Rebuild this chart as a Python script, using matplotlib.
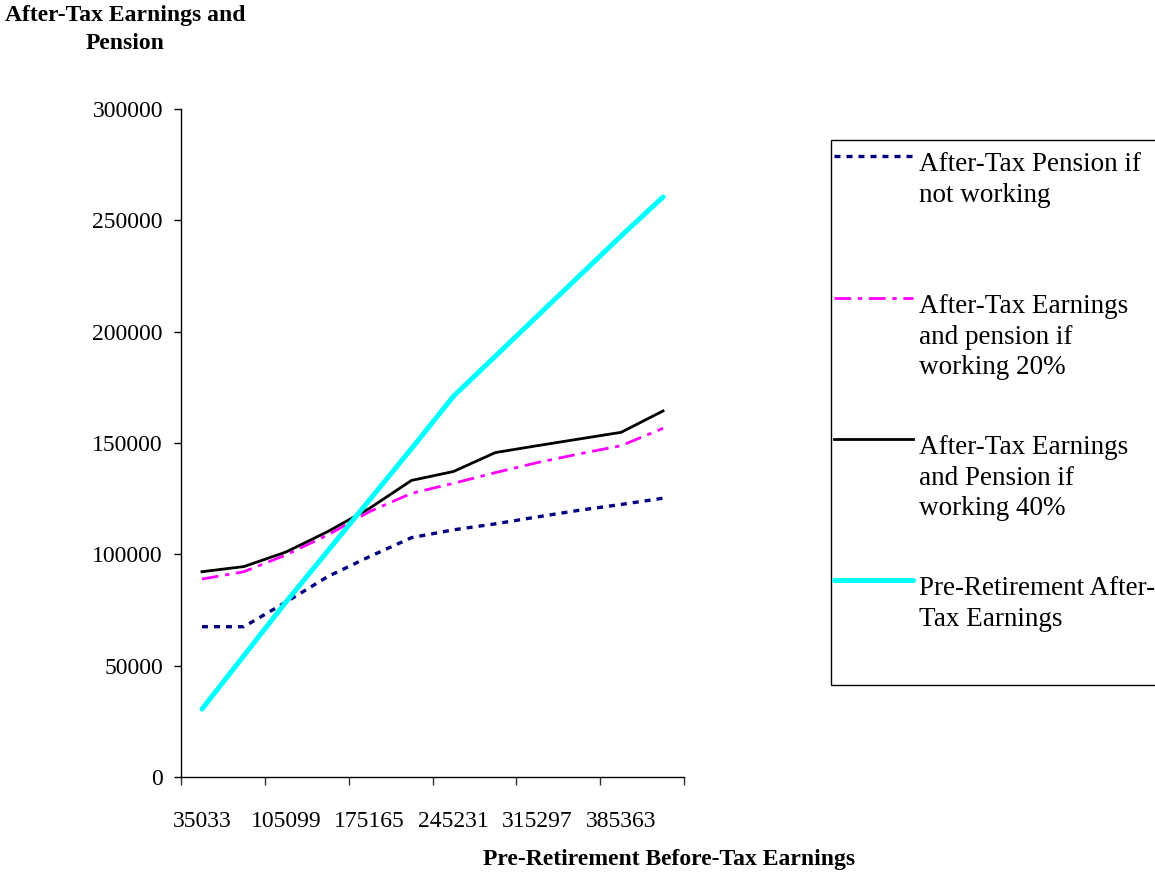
import matplotlib
matplotlib.use("Agg")
import matplotlib.pyplot as plt
from matplotlib.lines import Line2D
from matplotlib.patches import Rectangle
import numpy as np

plt.rcParams['font.family'] = ['Liberation Serif', 'DejaVu Serif']

# pre-retirement before-tax earnings (categories)
earnings = [35033, 70066, 105099, 140132, 175165, 210198,
            245231, 280264, 315297, 350330, 385363, 420396]

pension_not_working = [67.5, 67.5, 78.5, 90, 99, 107.5,
                       111, 113.7, 116.8, 119.8, 122.4, 125.2]
working_20 = [88.9, 92.2, 99.7, 108.7, 119.2, 127.4,
              131.9, 136.7, 141.2, 145.1, 148.8, 156.6]
working_40 = [92.2, 94.5, 101, 110.2, 120.7, 133.2,
              137.2, 145.7, 148.8, 151.8, 154.8, 164.4]
pre_ret_after_tax = [30.5, 54.5, 78.5, 101.5, 124.5, 147.5,
                     171, 189, 207, 225, 243, 260.5]

labels = ["After-Tax Pension if\nnot working",
          "After-Tax Earnings\nand pension if\nworking 20%",
          "After-Tax Earnings\nand Pension if\nworking 40%",
          "Pre-Retirement After-\nTax Earnings"]

W, H = 1155, 876
fig = plt.figure(figsize=(W / 100, H / 100), dpi=100)
ax = fig.add_axes([181 / W, 1 - 777 / H, 503 / W, 668 / H])

x = np.arange(len(earnings))
k = 1000
styles = [
    dict(color="#000080", lw=2.4, dashes=(1.8, 1.8)),
    dict(color="#FF00FF", lw=2.0, dashes=(6.0, 2.4, 1.6, 2.4)),
    dict(color="black", lw=2.0),
    dict(color="#00FFFF", lw=3.6, solid_capstyle="round"),
]
series = [pension_not_working, working_20, working_40, pre_ret_after_tax]
for s, st in zip(series, styles):
    ax.plot(x, np.array(s) * k, **st)

ax.set_xlim(-0.5, len(earnings) - 0.5)
ax.set_ylim(0, 300000)
ax.set_yticks(np.arange(0, 300001, 50000))
ax.set_xticks(np.arange(-0.5, len(earnings), 2))
ax.set_xticklabels([])
ax.set_xticks(x[::2], minor=True)
ax.set_xticklabels([str(e) for e in earnings[::2]], minor=True)
ax.tick_params(axis="x", which="major", length=6, width=1, direction="out", colors="#333333")
ax.tick_params(axis="x", which="minor", length=0, pad=24.5, labelsize=17)
ax.tick_params(axis="y", length=5, width=1, pad=8, labelsize=17)
for lab in ax.get_xticklabels(minor=True):
    lab.set_color("black")
for sp in ["top", "right"]:
    ax.spines[sp].set_visible(False)
ax.spines["left"].set_linewidth(1)
ax.spines["bottom"].set_linewidth(1)

# legend drawn in figure pixels
fig.add_artist(Rectangle((831 / W, 1 - 685 / H), 340 / W, 545 / H,
                         transform=fig.transFigure, fill=False, lw=1, ec="black"))
line_y = [156, 298, 439, 580]
for ly, st, lab in zip(line_y, styles, labels):
    fig.add_artist(Line2D([834 / W, 913 / W], [1 - ly / H, 1 - ly / H],
                          transform=fig.transFigure, **st))
    fig.text(919 / W, 1 - (ly - 4) / H, lab, fontsize=19.5, va="top", ha="left",
             linespacing=1.3)

fig.text(125 / W, 1 - 29.5 / H, "After-Tax Earnings and\nPension", fontsize=17,
         weight="bold", ha="center", va="center", multialignment="center",
         linespacing=1.45)
fig.text(669 / W, 1 - 860 / H, "Pre-Retirement Before-Tax Earnings", fontsize=17,
         weight="bold", ha="center", va="center")

fig.savefig("out.png", dpi=100)
